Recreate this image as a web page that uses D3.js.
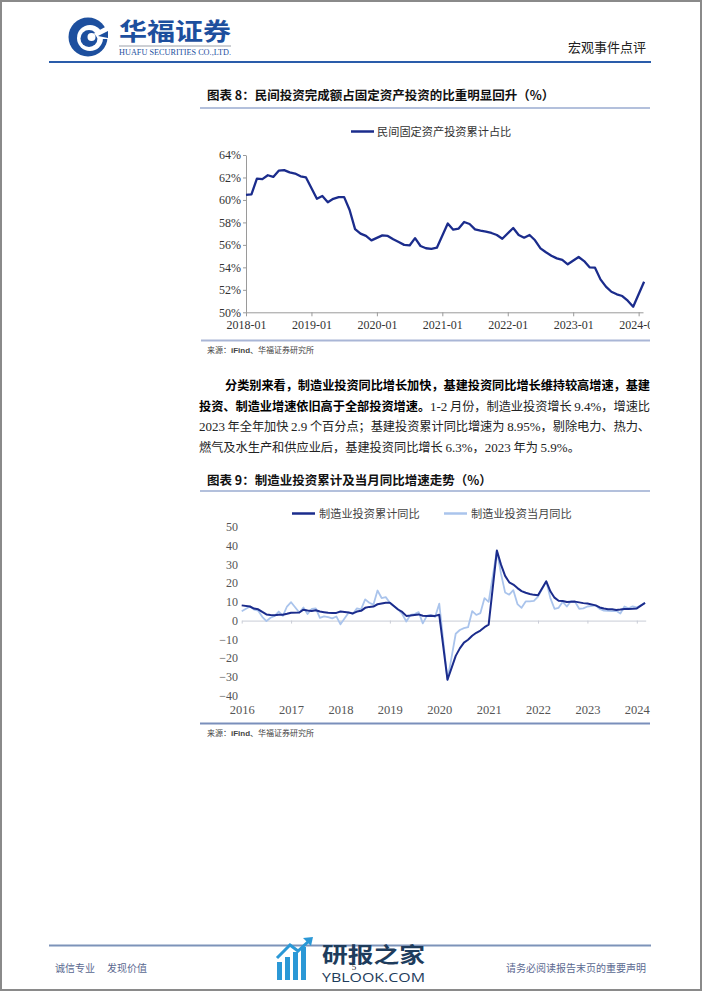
<!DOCTYPE html>
<html><head><meta charset="utf-8">
<script src="https://cdn.jsdelivr.net/npm/d3@7"></script>
<style>html,body{margin:0;padding:0;background:#fff;} svg{display:block;}</style>
</head><body>
<svg id="page" width="702" height="991"></svg>
<script>
// ---------------- DATA ----------------
// Chart 8: private FAI share of total FAI (cumulative, %)
const shareMonths = [
 "2018-01","2018-02","2018-03","2018-04","2018-05","2018-06","2018-07","2018-08","2018-09","2018-10","2018-11","2018-12",
 "2019-02","2019-03","2019-04","2019-05","2019-06","2019-07","2019-08","2019-09","2019-10","2019-11","2019-12",
 "2020-02","2020-03","2020-04","2020-05","2020-06","2020-07","2020-08","2020-09","2020-10","2020-11","2020-12",
 "2021-02","2021-03","2021-04","2021-05","2021-06","2021-07","2021-08","2021-09","2021-10","2021-11","2021-12",
 "2022-02","2022-03","2022-04","2022-05","2022-06","2022-07","2022-08","2022-09","2022-10","2022-11","2022-12",
 "2023-02","2023-03","2023-04","2023-05","2023-06","2023-07","2023-08","2023-09","2023-10","2023-11","2023-12",
 "2024-02"];
const shareValues = [
 60.45,60.5,61.9,61.85,62.2,62.05,62.6,62.65,62.45,62.35,62.1,62.0,
 60.1,60.35,59.8,60.1,60.25,60.25,59.1,57.4,57.0,56.8,56.4,
 56.85,56.8,56.5,56.25,56.0,55.95,56.6,55.9,55.7,55.65,55.75,
 57.9,57.35,57.45,58.04,57.86,57.38,57.27,57.18,57.06,56.88,56.55,
 57.5,56.88,56.64,56.88,56.41,55.69,55.34,55.04,54.8,54.66,54.27,
 54.92,54.56,54.0,53.97,52.93,52.28,51.83,51.6,51.45,51.03,50.5,
 52.72];
const shareYTicks = [50,52,54,56,58,60,62,64];
const shareXTicks = ["2018-01","2019-01","2020-01","2021-01","2022-01","2023-01","2024-01"];
const shareSeriesName = "民间固定资产投资累计占比";

// Chart 9: manufacturing investment yoy (%)
const mfgMonths = [
 "2015-12",
 "2016-02","2016-03","2016-04","2016-05","2016-06","2016-07","2016-08","2016-09","2016-10","2016-11","2016-12",
 "2017-02","2017-03","2017-04","2017-05","2017-06","2017-07","2017-08","2017-09","2017-10","2017-11","2017-12",
 "2018-02","2018-03","2018-04","2018-05","2018-06","2018-07","2018-08","2018-09","2018-10","2018-11","2018-12",
 "2019-02","2019-03","2019-04","2019-05","2019-06","2019-07","2019-08","2019-09","2019-10","2019-11","2019-12",
 "2020-02","2020-03","2020-04","2020-05","2020-06","2020-07","2020-08","2020-09","2020-10","2020-11","2020-12",
 "2021-02","2021-03","2021-04","2021-05","2021-06","2021-07","2021-08","2021-09","2021-10","2021-11","2021-12",
 "2022-02","2022-03","2022-04","2022-05","2022-06","2022-07","2022-08","2022-09","2022-10","2022-11","2022-12",
 "2023-02","2023-03","2023-04","2023-05","2023-06","2023-07","2023-08","2023-09","2023-10","2023-11","2023-12",
 "2024-02"];
const mfgCumulative = [
 8.1,
 7.5,6.4,6.0,4.6,3.3,3.0,2.8,3.1,3.1,3.6,4.2,
 4.3,5.8,5.4,5.1,5.5,4.8,4.5,4.2,4.1,4.1,4.8,
 4.3,3.8,4.8,5.2,6.8,7.3,7.5,8.7,9.1,9.5,9.5,
 5.9,4.6,2.5,2.7,3.0,3.3,2.6,2.5,2.6,2.5,3.1,
 -31.5,-25.2,-18.8,-14.8,-11.7,-10.2,-8.1,-6.5,-5.3,-3.5,-2.2,
 37.3,29.8,23.8,20.4,19.2,17.3,15.7,14.8,14.2,13.7,13.5,
 20.9,15.6,12.2,10.6,10.4,9.9,10.0,10.1,9.7,9.3,9.1,
 8.1,7.0,6.4,6.0,6.0,5.7,5.9,6.2,6.2,6.3,6.5,
 9.4];
const mfgMonthly = [
 5.0,
 7.5,5.9,5.3,2.0,-0.3,1.5,2.5,4.8,2.5,7.5,9.8,
 4.3,7.0,3.5,6.2,6.5,1.5,2.2,1.8,1.2,2.2,-2.0,
 4.3,3.5,6.5,6.0,11.3,9.5,8.5,16.0,12.0,12.5,9.5,
 5.9,3.5,-0.5,3.0,3.5,4.5,-1.5,2.5,3.0,2.0,9.0,
 -31.5,-19.5,-7.0,-5.0,-4.0,-3.5,5.0,3.0,4.0,12.0,10.0,
 37.3,25.0,15.0,13.8,16.2,8.8,6.8,10.2,10.2,10.5,12.8,
 20.9,12.0,6.3,6.8,10.0,7.5,10.3,10.0,6.3,6.5,7.5,
 8.1,6.2,5.3,5.2,5.0,5.2,3.8,7.5,6.5,7.6,7.0,
 9.4];
const mfgYTicks = [-40,-30,-20,-10,0,10,20,30,40,50];
const mfgXTicks = [2016,2017,2018,2019,2020,2021,2022,2023,2024];
const mfgSeriesNames = ["制造业投资累计同比","制造业投资当月同比"];

// ---------------- STYLE ----------------
const CJK = "'Noto Sans CJK SC','Noto Sans',sans-serif";
const SERIF = "'Liberation Serif','DejaVu Serif',serif";
const NAVY = "#1b2c8c";
const LIGHT = "#aac4ec";

const svg = d3.select("#page");
svg.append("rect").attr("x",0).attr("y",0).attr("width",702).attr("height",991).attr("fill","#fff");
svg.append("rect").attr("x",1).attr("y",1).attr("width",700).attr("height",989)
  .attr("fill","none").attr("stroke","#8a8a8a").attr("stroke-width",2);

// ---------------- HEADER ----------------
const logo = svg.append("g").attr("transform","translate(88,37)");
logo.append("circle").attr("r",19.5).attr("fill","#1d4f9e");
logo.append("circle").attr("cx",2).attr("cy",1).attr("r",13).attr("fill","#fff");
logo.append("circle").attr("cx",1).attr("cy",1.5).attr("r",8.5).attr("fill","#1d4f9e");
logo.append("circle").attr("cx",3.5).attr("cy",0).attr("r",4).attr("fill","#fff");
logo.append("path").attr("d","M 6 -4 L 21 -12 L 21 2 L 10 2 Z").attr("fill","#fff");
logo.append("path").attr("d","M 10 -1 L 20 -6 L 20 1 Z").attr("fill","#1d4f9e");

svg.append("text").attr("x",119).attr("y",40).attr("font-family",CJK).attr("font-weight",700)
  .attr("font-size",24).attr("fill","#1d4f9e").attr("textLength",112).attr("lengthAdjust","spacingAndGlyphs").text("华福证券");
svg.append("line").attr("x1",119).attr("x2",231).attr("y1",46).attr("y2",46).attr("stroke","#9aa0aa").attr("stroke-width",1);
svg.append("text").attr("x",119).attr("y",55).attr("font-family",SERIF).attr("font-size",7.5)
  .attr("fill","#1d4f9e").attr("textLength",112).attr("lengthAdjust","spacingAndGlyphs").text("HUAFU SECURITIES CO.,LTD.");
svg.append("text").attr("x",646).attr("y",52).attr("text-anchor","end").attr("font-family",CJK)
  .attr("font-size",13).attr("fill","#222").text("宏观事件点评");
svg.append("line").attr("x1",49).attr("x2",651).attr("y1",62).attr("y2",62).attr("stroke","#2a5caa").attr("stroke-width",2);

// ---------------- CHART 8 ----------------
svg.append("text").attr("x",207).attr("y",100).attr("font-family",CJK).attr("font-weight",700)
  .attr("font-size",12.5).attr("fill","#111").text("图表 8：民间投资完成额占固定资产投资的比重明显回升（%）");
svg.append("line").attr("x1",200).attr("x2",650).attr("y1",108).attr("y2",108).attr("stroke","#b3c0dc").attr("stroke-width",2);

// legend
svg.append("line").attr("x1",351).attr("x2",374).attr("y1",131.5).attr("y2",131.5).attr("stroke",NAVY).attr("stroke-width",2.5);
svg.append("text").attr("x",377).attr("y",135.5).attr("font-family",CJK).attr("font-size",11.2).attr("fill","#333").text(shareSeriesName);

const mIdx = s => { const [y,m] = s.split("-").map(Number); return (y-2018)*12 + (m-1); };
const x1 = d3.scaleLinear().domain([0,72.8]).range([246,643]);
const y1 = d3.scaleLinear().domain([50,64]).range([312.3,155]);

svg.append("defs").append("clipPath").attr("id","c1").append("rect")
  .attr("x",150).attr("y",140).attr("width",500).attr("height",200);
const c1 = svg.append("g").attr("clip-path","url(#c1)");

const ax1y = c1.append("g").attr("transform","translate(246,0)")
  .call(d3.axisLeft(y1).tickValues(shareYTicks).tickFormat(d => d + "%").tickSize(3).tickSizeOuter(0));
const ax1x = c1.append("g").attr("transform","translate(0,312.3)")
  .call(d3.axisBottom(x1).tickValues(shareXTicks.map(mIdx)).tickFormat((d,i) => shareXTicks[i]).tickSize(4).tickSizeOuter(0));
[ax1y, ax1x].forEach(a => {
  a.select(".domain").attr("stroke","#9a9a9a");
  a.selectAll(".tick line").attr("stroke","#9a9a9a");
  a.selectAll("text").attr("font-family",SERIF).attr("font-size",12).attr("fill","#333");
});
ax1y.selectAll("text").attr("x",-5);
ax1x.selectAll("text").attr("y",8);

const line1 = d3.line().x(d => x1(mIdx(d.m))).y(d => y1(d.v));
c1.append("path").datum(shareMonths.map((m,i) => ({m, v: shareValues[i]})))
  .attr("d",line1).attr("fill","none").attr("stroke",NAVY).attr("stroke-width",2.3).attr("stroke-linejoin","round");

svg.append("line").attr("x1",201).attr("x2",650).attr("y1",340.5).attr("y2",340.5).attr("stroke","#a9b6d6").attr("stroke-width",2);
function source(y) {
  const t = svg.append("text").attr("x",207).attr("y",y).attr("font-size",8).attr("fill","#444").attr("font-family",CJK);
  t.append("tspan").text("来源：");
  t.append("tspan").attr("font-family","'Liberation Sans',Arial,sans-serif").attr("font-weight",700).text("iFind");
  t.append("tspan").text("、华福证券研究所");
}
source(353);

// ---------------- BODY TEXT ----------------
function para(x, y, parts, width) {
  const t = svg.append("text").attr("x",x).attr("y",y).attr("font-size",12.2).attr("fill","#222").attr("font-family",CJK);
  parts.forEach(p => {
    const s = t.append("tspan").text(p.t);
    if (p.b) s.attr("font-weight",700).attr("fill","#000");
    if (p.s) s.attr("font-family",SERIF).attr("font-size",13);
  });
  if (width) t.attr("textLength",width).attr("lengthAdjust","spacing");
}
para(225, 390, [{t:"分类别来看，制造业投资同比增长加快，基建投资同比增长维持较高增速，基建", b:1}], 425);
para(199, 411, [{t:"投资、制造业增速依旧高于全部投资增速。", b:1},{t:"1-2",s:1},{t:" 月份，制造业投资增长 "},{t:"9.4%",s:1},{t:"，增速比"}], 451);
para(199, 431, [{t:"2023",s:1},{t:" 年全年加快 "},{t:"2.9",s:1},{t:" 个百分点；基建投资累计同比增速为 "},{t:"8.95%",s:1},{t:"，剔除电力、热力、"}], 451);
para(199, 452, [{t:"燃气及水生产和供应业后，基建投资同比增长 "},{t:"6.3%",s:1},{t:"，"},{t:"2023",s:1},{t:" 年为 "},{t:"5.9%",s:1},{t:"。"}], null);

// ---------------- CHART 9 ----------------
svg.append("text").attr("x",207).attr("y",485).attr("font-family",CJK).attr("font-weight",700)
  .attr("font-size",12.5).attr("fill","#111").text("图表 9：制造业投资累计及当月同比增速走势（%）");
svg.append("line").attr("x1",200).attr("x2",650).attr("y1",491).attr("y2",491).attr("stroke","#b3c0dc").attr("stroke-width",2);

// legend
svg.append("line").attr("x1",292).attr("x2",315).attr("y1",513.5).attr("y2",513.5).attr("stroke",NAVY).attr("stroke-width",2.5);
svg.append("text").attr("x",319).attr("y",517.5).attr("font-family",CJK).attr("font-size",11.2).attr("fill","#444").text(mfgSeriesNames[0]);
svg.append("line").attr("x1",444).attr("x2",467).attr("y1",513.5).attr("y2",513.5).attr("stroke",LIGHT).attr("stroke-width",2.5);
svg.append("text").attr("x",471).attr("y",517.5).attr("font-family",CJK).attr("font-size",11.2).attr("fill","#444").text(mfgSeriesNames[1]);

const mYear = s => { const [y,m] = s.split("-").map(Number); return y + m/12; };
const x2 = d3.scaleLinear().domain([2016, 2024.18]).range([241.7, 645.7]);
const y2 = d3.scaleLinear().domain([-40,50]).range([695.7,526.7]);

const ay2 = svg.append("g").attr("transform","translate(239,0)")
  .call(d3.axisLeft(y2).tickValues(mfgYTicks).tickSize(0).tickFormat(d3.format("d")));
ay2.select(".domain").remove();
ay2.selectAll("text").attr("font-family",SERIF).attr("font-size",12).attr("fill","#555").attr("x",-1);

const zero = svg.append("g").attr("transform",`translate(0,${y2(0)})`)
  .call(d3.axisBottom(x2).tickValues(mfgXTicks).tickFormat("").tickSize(3).tickSizeOuter(0));
zero.select(".domain").attr("stroke","#c9ccd6");
zero.selectAll(".tick line").attr("stroke","#c9ccd6");

const ax2 = svg.append("g").attr("transform","translate(0,700)")
  .call(d3.axisBottom(x2).tickValues(mfgXTicks).tickFormat(d3.format("d")).tickSize(0));
ax2.select(".domain").remove();
ax2.selectAll("text").attr("font-family",SERIF).attr("font-size",12.5).attr("fill","#555").attr("y",5);

const line2 = d3.line().x(d => x2(mYear(d.m))).y(d => y2(d.v));
svg.append("path").datum(mfgMonths.map((m,i) => ({m, v: mfgMonthly[i]})))
  .attr("d",line2).attr("fill","none").attr("stroke",LIGHT).attr("stroke-width",1.8).attr("stroke-linejoin","round");
svg.append("path").datum(mfgMonths.map((m,i) => ({m, v: mfgCumulative[i]})))
  .attr("d",line2).attr("fill","none").attr("stroke",NAVY).attr("stroke-width",2).attr("stroke-linejoin","round");

svg.append("line").attr("x1",200).attr("x2",650).attr("y1",723.5).attr("y2",723.5).attr("stroke","#7a8fbb").attr("stroke-width",2);
source(736);

// ---------------- FOOTER ----------------
svg.append("line").attr("x1",49).attr("x2",651).attr("y1",945.5).attr("y2",945.5).attr("stroke","#7d93b9").attr("stroke-width",2);
svg.append("text").attr("x",55).attr("y",972).attr("font-family",CJK).attr("font-size",10).attr("fill","#5a6890").text("诚信专业");
svg.append("text").attr("x",107).attr("y",972).attr("font-family",CJK).attr("font-size",10).attr("fill","#5a6890").text("发现价值");
svg.append("text").attr("x",646).attr("y",972).attr("text-anchor","end").attr("font-family",CJK).attr("font-size",10).attr("fill","#5a6890").text("请务必阅读报告末页的重要声明");

// watermark
const wm = svg.append("g");
[[277,962,5,18],[285,957,5,23],[293,952,5,28],[301,947,5,33]].forEach(b =>
  wm.append("rect").attr("x",b[0]).attr("y",b[1]).attr("width",b[2]).attr("height",b[3]).attr("fill","#2b98d6"));
wm.append("path").attr("d","M 277 958 L 290 945 L 298 951 L 310 940").attr("fill","none").attr("stroke","#2b98d6").attr("stroke-width",3);
wm.append("path").attr("d","M 303 938 L 313 937 L 311 946 Z").attr("fill","#2b98d6");
wm.append("text").attr("x",322).attr("y",962).attr("font-family",CJK).attr("font-weight",700).attr("font-size",21)
  .attr("fill","#1e3c5c").attr("textLength",103).attr("lengthAdjust","spacingAndGlyphs").text("研报之家");
wm.append("text").attr("x",322).attr("y",982).attr("font-family","'Open Sans','DejaVu Sans',sans-serif").attr("font-size",13)
  .attr("fill","#1e3c5c").attr("textLength",103).attr("lengthAdjust","spacingAndGlyphs").text("YBLOOK.COM");
svg.append("text").attr("x",354).attr("y",970).attr("text-anchor","middle").attr("font-family",SERIF).attr("font-size",9).attr("fill","#222").text("5");
</script>
</body></html>
